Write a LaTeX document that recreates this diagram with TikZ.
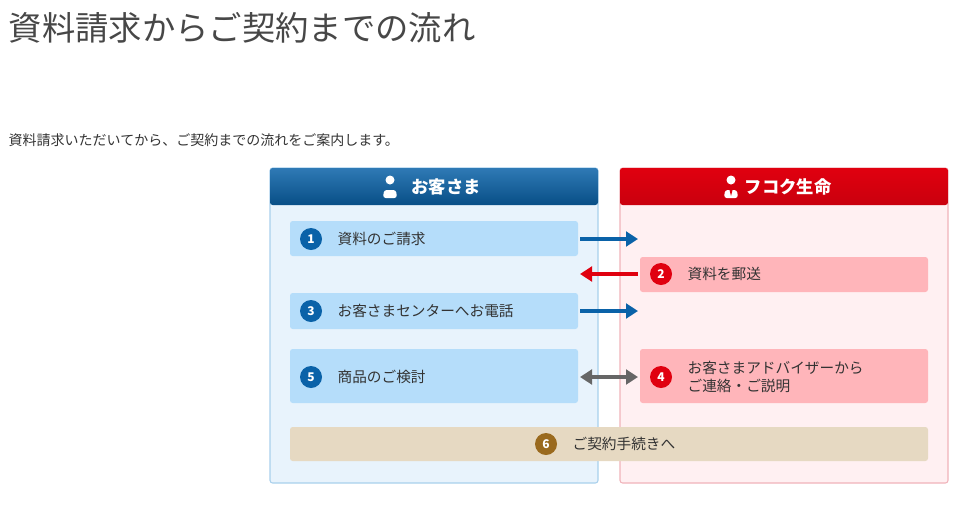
\documentclass[tikz,border=0pt]{standalone}
\usepackage{fontspec}
\setmainfont{Noto Sans CJK JP}
\usetikzlibrary{positioning,arrows.meta}
\definecolor{custblue}{HTML}{0A62A8}
\definecolor{custbody}{HTML}{E8F3FC}
\definecolor{custline}{HTML}{A9D0EC}
\definecolor{custstep}{HTML}{B5DDFA}
\definecolor{compred}{HTML}{E0000F}
\definecolor{compbody}{HTML}{FFF0F2}
\definecolor{compline}{HTML}{F0B3BA}
\definecolor{compstep}{HTML}{FFB5BA}
\definecolor{laststep}{HTML}{E6D9C2}
\definecolor{lastnum}{HTML}{9A6A1E}
\definecolor{txt}{HTML}{333333}
\begin{document}
\begin{tikzpicture}
  [
    x=0.75pt, y=-0.75pt,
    panel/.style={draw, line width=0.8pt, rounded corners=2pt},
    stepbox/.style={rounded corners=2pt, inner sep=0pt},
    num/.style={circle, fill=#1, text=white, inner sep=0pt, minimum size=16.5pt, font=\bfseries\small},
    steptext/.style={anchor=west, text=txt, font=\fontsize{11}{14}\selectfont, align=left},
    flow/.style={line width=3pt, -{Triangle[length=9pt,width=11pt]}},
  ]
  \useasboundingbox (0,0) rectangle (969,504);
  \node (title) [anchor=west, text=txt!90, font=\fontsize{25}{30}\selectfont] at (4,28) {資料請求からご契約までの流れ};
  \node (lead) [anchor=west, text=txt, font=\fontsize{10.5}{13}\selectfont] at (4,140) {資料請求いただいてから、ご契約までの流れをご案内します。};

  % panels
  \draw [panel, draw=custline, fill=custbody] (270,168) rectangle (598,483);
  \draw [panel, draw=compline, fill=compbody] (620,168) rectangle (948,483);
  \shade [top color=custblue!85!white, bottom color=custblue!80!black, rounded corners=2pt] (270,168) rectangle (598,205);
  \shade [top color=compred, bottom color=compred!90!black, rounded corners=2pt] (620,168) rectangle (948,205);

  % header labels with person icons
  \node (cust) [text=white, font=\bfseries\fontsize{13}{16}\selectfont] at (446,187) {お客さま};
  \fill [white] (390,180) circle (4.5);
  \fill [white, rounded corners=2pt] (383,198) -- (384,190) -- (396,190) -- (397,198) -- cycle;
  \node (comp) [text=white, font=\bfseries\fontsize{13}{16}\selectfont] at (788,187) {フコク生命};
  \fill [white] (731,180) circle (4.5);
  \fill [white, rounded corners=2pt] (724,198) -- (725,190) -- (737,190) -- (738,198) -- cycle;
  \fill [compred] (729.5,190) -- (731,196) -- (732.5,190) -- cycle;

  % step boxes
  \fill [stepbox, custstep] (290,221) rectangle (578,256);
  \fill [stepbox, compstep] (640,257) rectangle (928,292);
  \fill [stepbox, custstep] (290,293) rectangle (578,329);
  \fill [stepbox, custstep] (290,349) rectangle (578,403);
  \fill [stepbox, compstep] (640,349) rectangle (928,403);
  \fill [stepbox, laststep] (290,427) rectangle (928,461);

  \node (n1) [num=custblue] at (311,239) {1};
  \node (t1) [steptext, right=8pt of n1] {資料のご請求};
  \node (n2) [num=compred] at (661,274) {2};
  \node (t2) [steptext, right=8pt of n2] {資料を郵送};
  \node (n3) [num=custblue] at (311,311) {3};
  \node (t3) [steptext, right=8pt of n3] {お客さまセンターへお電話};
  \node (n4) [num=compred] at (661,377) {4};
  \node (t4) [steptext, right=8pt of n4] {お客さまアドバイザーから\\ご連絡・ご説明};
  \node (n5) [num=custblue] at (311,377) {5};
  \node (t5) [steptext, right=8pt of n5] {商品のご検討};
  \node (n6) [num=lastnum] at (546,444) {6};
  \node (t6) [steptext, right=8pt of n6] {ご契約手続きへ};

  % arrows
  \coordinate (a1) at (580,239);
  \coordinate (b1) at (638,239);
  \coordinate (a2) at (638,274);
  \coordinate (b2) at (580,274);
  \coordinate (a3) at (580,311);
  \coordinate (b3) at (638,311);
  \coordinate (a4) at (580,377);
  \coordinate (b4) at (638,377);
  \draw [flow, custblue] (a1) -- (b1);
  \draw [flow, compred] (a2) -- (b2);
  \draw [flow, custblue] (a3) -- (b3);
  \draw [flow, gray!80!black, {Triangle[length=9pt,width=11pt]}-{Triangle[length=9pt,width=11pt]}] (a4) -- (b4);
\end{tikzpicture}
\end{document}
